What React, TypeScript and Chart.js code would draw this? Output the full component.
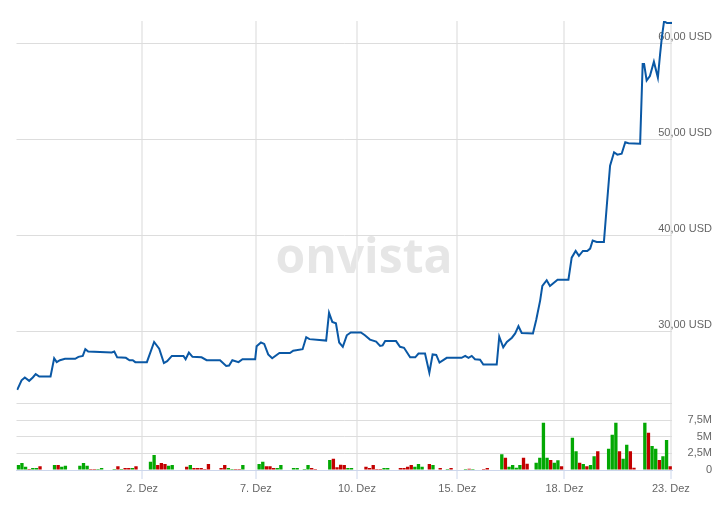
import React, { useEffect, useRef } from 'react';
import { Chart, registerables } from 'chart.js';

Chart.register(...registerables);

// Ordinal time index (one unit = one hourly slot of the chart)
const priceX = [
  0.2, 1.4, 2.3, 3.5, 4.5, 5.3, 6.3, 9.4, 10.4, 11.1,
  12.0, 13.4, 16.2, 17.1, 18.3, 19.0, 19.8, 26.3, 27.0, 27.8,
  30.2, 31.2, 32.1, 32.8, 36.0, 38.0, 39.4, 40.7, 41.6, 42.9,
  46.1, 46.7, 47.6, 48.6, 51.1, 52.5, 56.2, 57.9, 58.7, 59.6,
  61.3, 62.4, 65.9, 66.3, 67.5, 68.4, 69.5, 70.6, 72.6, 75.5,
  76.4, 79.0, 80.0, 80.9, 85.5, 86.3, 87.2, 88.2, 89.1, 90.1,
  91.2, 92.3, 95.1, 96.2, 97.6, 99.3, 100.4, 101.1, 101.8, 104.8,
  105.9, 107.0, 108.7, 110.1, 111.0, 112.8, 114.0, 114.9, 115.9, 116.8,
  118.8, 122.9, 123.9, 124.8, 125.7, 126.6, 128.0, 128.9, 132.6, 133.3,
  134.4, 135.4, 136.8, 137.7, 138.6, 139.5, 142.6, 143.5, 144.6, 145.2,
  146.4, 147.3, 149.4, 152.4, 153.3, 154.4, 155.3, 156.4, 157.6, 158.4,
  159.1, 160.2, 162.2, 163.0, 163.9, 165.0, 165.9, 167.1, 168.1, 169.0,
  172.2, 172.9, 173.3, 174.0, 174.9, 176.0, 177.1, 177.7, 178.2, 178.8,
  179.6, 181.0,
];

// Price in USD
const priceY = [
  23.9, 24.9, 25.2, 24.85, 25.2, 25.55, 25.3, 25.3, 27.2, 26.8,
  27.0, 27.15, 27.15, 27.35, 27.45, 28.15, 27.9, 27.8, 27.9, 27.3,
  27.25, 27.0, 27.0, 26.8, 26.8, 28.9, 28.2, 26.7, 26.9, 27.45,
  27.45, 27.1, 27.8, 27.35, 27.3, 27.0, 27.0, 26.4, 26.45, 27.0,
  26.8, 27.1, 27.1, 28.45, 28.85, 28.7, 27.6, 27.2, 27.75, 27.75,
  28.0, 28.15, 29.4, 29.2, 29.05, 31.95, 31.0, 30.85, 28.85, 28.4,
  29.6, 29.9, 29.9, 29.6, 29.15, 28.95, 28.5, 28.55, 29.0, 29.0,
  28.4, 28.3, 27.3, 27.3, 27.7, 27.7, 25.7, 27.6, 27.55, 26.75,
  27.25, 27.25, 27.45, 27.25, 27.45, 27.1, 27.05, 26.55, 26.55, 29.45,
  28.35, 28.9, 29.35, 29.8, 30.55, 29.85, 29.8, 31.2, 33.25, 34.75,
  35.35, 34.75, 35.4, 35.4, 37.7, 38.4, 37.9, 38.4, 38.4, 38.65,
  39.5, 39.35, 39.35, 43.15, 47.3, 48.7, 48.45, 48.55, 49.75, 49.65,
  49.6, 57.9, 57.9, 56.2, 56.65, 58.15, 56.5, 58.9, 60.7, 62.35,
  62.2, 62.2,
];

// First hourly slot of each trading day (25. Nov ... 22. Dez)
const dayStarts = [0, 10, 17, 26.5, 36.5, 46.5, 56, 66.5, 76, 86, 96, 105.5, 113.5, 123.5, 133.5, 143, 153, 163, 173];

// Hourly volume per trading day, in millions
const dayVolumes = [
  [0.75, 1.05, 0.5, 0.15, 0.3, 0.3, 0.55],
  [0.75, 0.75, 0.5, 0.65],
  [0.65, 1.05, 0.65, 0.15, 0.15, 0.15, 0.3],
  [0.15, 0.55, 0.15, 0.3, 0.3, 0.3, 0.55],
  [1.25, 2.25, 0.75, 1.05, 0.9, 0.65, 0.75],
  [0.5, 0.75, 0.3, 0.3, 0.3, 0.15, 0.9],
  [0.3, 0.75, 0.3, 0.15, 0.15, 0.15, 0.75],
  [0.9, 1.25, 0.55, 0.55, 0.3, 0.3, 0.75],
  [0.3, 0.3, 0, 0.15, 0.75, 0.3, 0.15],
  [1.5, 1.7, 0.4, 0.8, 0.75, 0.3, 0.3],
  [0.5, 0.3, 0.75, 0.15, 0.15, 0.3, 0.3],
  [0.3, 0.3, 0.5, 0.75, 0.5, 0.9, 0.5],
  [0.9, 0.75, 0, 0.3, 0, 0.15, 0.3],
  [0.15, 0.2, 0.15, 0, 0, 0.15, 0.3],
  [2.35, 1.85, 0.5, 0.75, 0.35, 0.75, 1.85, 0.95],
  [1.1, 1.85, 7.1, 1.85, 1.5, 1.1, 1.45, 0.55],
  [4.85, 2.8, 1.1, 0.9, 0.55, 0.75, 2.05, 2.8],
  [3.2, 5.3, 7.1, 2.8, 1.7, 3.8, 2.8, 0.35],
  [7.1, 5.6, 3.6, 3.2, 1.5, 2.05, 4.5, 0.55],
];

// G = rising hour (green), R = falling hour (red)
const dayDirections = [
  'GGGRGGR', 'GRGG', 'GGGRRGG', 'GRGRRGR', 'GGRRRGG', 'RGRRRRR', 'RRGGRRG',
  'GGRRRGG', 'GGGGGRR', 'GRRRRGG', 'RRRRRGG', 'RRRRGGG', 'RGGRGGR', 'GRGGGRR',
  'GRGGGGRR', 'GGGGRGGR', 'GGRGRGGR', 'GGGRGGRR', 'GRGGRGGR',
];

const dateTickPositions = [34.7, 66.1, 94.0, 121.7, 151.3, 180.7];
const dateTickLabels = ['2. Dez', '7. Dez', '10. Dez', '15. Dez', '18. Dez', '23. Dez'];

const priceMin = 22.5;
const priceMax = 62.4;
const volumeMax = 10;

const FONT = '"Liberation Sans", Arial, Helvetica, sans-serif';
const GREEN = '#03a803';
const RED = '#c30000';

const watermark = {
  id: 'watermark',
  beforeDraw(chart: any) {
    const { ctx } = chart;
    ctx.save();
    ctx.font = 'bold 48px "Open Sans", "Liberation Sans", sans-serif';
    ctx.fillStyle = '#e6e6e6';
    ctx.textAlign = 'center';
    ctx.textBaseline = 'alphabetic';
    ctx.fillText('onvista', 364, 273);
    ctx.restore();
  },
};

const fitRightAxis = (s: any) => {
  s.width = 49;
  s.paddingTop = 0;
  s.paddingBottom = 0;
  s.paddingLeft = 0;
  s.paddingRight = 0;
};

export default function App() {
  const ref = useRef<HTMLCanvasElement | null>(null);

  useEffect(() => {
    if (!ref.current) return;

    const linePoints = priceX.map((x, i) => ({ x, y: priceY[i] }));
    const barPoints: { x: number; y: number }[] = [];
    const barColors: string[] = [];
    dayVolumes.forEach((vols, d) => {
      vols.forEach((v, i) => {
        barPoints.push({ x: dayStarts[d] + i + 0.5, y: v });
        barColors.push(dayDirections[d][i] === 'G' ? GREEN : RED);
      });
    });

    const chart = new Chart(ref.current, {
      data: {
        datasets: [
          {
            type: 'line',
            data: linePoints,
            yAxisID: 'yPrice',
            borderColor: '#0a58a5',
            borderWidth: 2,
            pointRadius: 0,
            tension: 0,
          } as any,
          {
            type: 'bar',
            data: barPoints,
            yAxisID: 'yVol',
            backgroundColor: barColors,
            borderWidth: 0,
            categoryPercentage: 1,
            barPercentage: 0.92,
          } as any,
        ],
      },
      options: {
        animation: false,
        responsive: false,
        maintainAspectRatio: false,
        layout: { padding: { left: 16.5, top: 21, right: 0, bottom: 0 } },
        plugins: {
          legend: { display: false },
          tooltip: { enabled: false },
        },
        scales: {
          x: {
            type: 'linear',
            position: 'bottom',
            offset: false,
            min: 0,
            max: 181,
            afterBuildTicks: (s: any) => {
              s.ticks = dateTickPositions.map((v) => ({ value: v }));
            },
            afterFit: (s: any) => {
              s.height = 37;
              s.paddingLeft = 0;
              s.paddingRight = 0;
            },
            grid: {
              offset: false,
              color: '#ececec',
              lineWidth: 2,
              drawTicks: true,
              tickLength: 9,
              tickColor: '#ccd6eb',
              tickWidth: 1,
            },
            border: { display: true, color: '#ccd6eb', width: 1 },
            ticks: {
              autoSkip: false,
              maxRotation: 0,
              padding: 3,
              color: '#666666',
              font: { family: FONT, size: 11 },
              callback: (_v: any, i: number) => dateTickLabels[i],
            },
          },
          yPrice: {
            type: 'linear',
            position: 'right',
            stack: 'panes',
            stackWeight: 382.6,
            min: priceMin,
            max: priceMax,
            afterFit: fitRightAxis,
            grid: { color: '#dddddd', lineWidth: 1, drawTicks: false },
            border: { display: false },
            ticks: {
              stepSize: 10,
              includeBounds: false,
              autoSkip: false,
              mirror: true,
              padding: 40,
              labelOffset: -7,
              color: '#666666',
              font: { family: FONT, size: 11 },
              callback: (v: any) => Number(v).toFixed(2).replace('.', ',') + ' USD',
            },
          },
          yVol: {
            type: 'linear',
            position: 'right',
            stack: 'panes',
            stackWeight: 66.7,
            min: 0,
            max: volumeMax,
            afterFit: fitRightAxis,
            grid: { color: '#dddddd', lineWidth: 1, drawTicks: false },
            border: { display: false },
            ticks: {
              stepSize: 2.5,
              autoSkip: false,
              mirror: true,
              padding: 40,
              color: '#666666',
              font: { family: FONT, size: 11 },
              callback: (v: any) => {
                const n = Number(v);
                if (n >= volumeMax) return '';
                if (n === 0) return '0';
                return String(n).replace('.', ',') + 'M';
              },
            },
          },
        },
      } as any,
      plugins: [watermark],
    });

    return () => chart.destroy();
  }, []);

  return (
    <div style={{ position: 'absolute', left: 0, top: 0, width: 721, height: 507, background: '#ffffff' }}>
      <canvas ref={ref} width={721} height={507} style={{ display: 'block' }} />
    </div>
  );
}
